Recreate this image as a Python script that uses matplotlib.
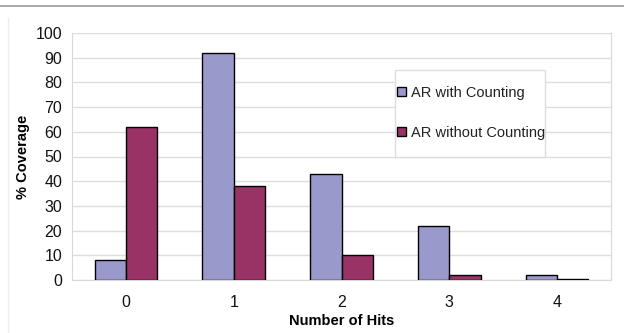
import matplotlib
matplotlib.use("Agg")
import matplotlib.pyplot as plt
import numpy as np
from matplotlib.lines import Line2D
from matplotlib.patches import Rectangle

plt.rcParams['font.family'] = ['Liberation Sans', 'DejaVu Sans']

categories = ["0", "1", "2", "3", "4"]
with_counting = [8, 92, 43, 22, 2]
without_counting = [62, 38, 10, 2, 0.5]
series_names = ["AR with Counting", "AR without Counting"]
yticks = [0, 10, 20, 30, 40, 50, 60, 70, 80, 90, 100]

W, H = 624, 333
fig = plt.figure(figsize=(W/100, H/100), dpi=100)
fig.patch.set_facecolor("white")

def fx(px):
    return px / W

def fy(py):
    return 1 - py / H

# top gray rule and faint outer frame
fig.add_artist(Line2D([0, 1], [fy(6), fy(6)], color="#9a9a9a", lw=1.2, transform=fig.transFigure))
fig.add_artist(Line2D([fx(8), fx(8)], [0, fy(18)], color="#eeeeee", lw=1, transform=fig.transFigure))

L, R, T, B = 72, 611, 33, 280
ax = fig.add_axes([fx(L), fy(B), fx(R - L), (B - T) / H])
x = np.arange(len(categories))
bw = 0.29
ax.bar(x - bw/2, with_counting, bw, color="#9999cc", edgecolor="black", lw=1, label=series_names[0], zorder=3)
ax.bar(x + bw/2, without_counting, bw, color="#993366", edgecolor="black", lw=1, label=series_names[1], zorder=3)

ax.set_xlim(-0.5, len(categories) - 0.5)
ax.set_ylim(0, 100)
ax.set_yticks(yticks)
ax.set_xticks(x)
ax.set_xticklabels(categories)
ax.yaxis.grid(True, color="#dddddd", lw=1, zorder=0)
ax.spines["top"].set_visible(False)
for s in ["left", "right", "bottom"]:
    ax.spines[s].set_color("#d8d8d8")
ax.tick_params(axis="both", length=0, labelsize=11.5, colors="#111111")
ax.tick_params(axis="y", pad=7)
ax.tick_params(axis="x", pad=11)
ax.set_xlabel("Number of Hits", fontsize=10.5, fontweight="bold", labelpad=3)
ax.set_ylabel("% Coverage", fontsize=10.5, fontweight="bold")
ax.yaxis.set_label_coords((30 - L) / (R - L), 0.5)

# legend box frame (drawn in the axes, under the legend entries)
ax.add_patch(Rectangle((fx(395), fy(157)), fx(545 - 395), (157 - 70) / H,
                       transform=fig.transFigure, fill=True, facecolor="white",
                       edgecolor="#dddddd", lw=1, zorder=4, clip_on=False))
leg = ax.legend(loc="upper left", bbox_to_anchor=((397 - L) / (R - L), (B - 86) / (B - T)),
                frameon=False, fontsize=10.5, handlelength=0.6, handleheight=0.6,
                handletextpad=0.35, labelspacing=1.75, borderpad=0.0, borderaxespad=0)
leg.set_zorder(6)
for t in leg.get_texts():
    t.set_color("#222222")

fig.savefig("out.png", dpi=100, facecolor="white")
